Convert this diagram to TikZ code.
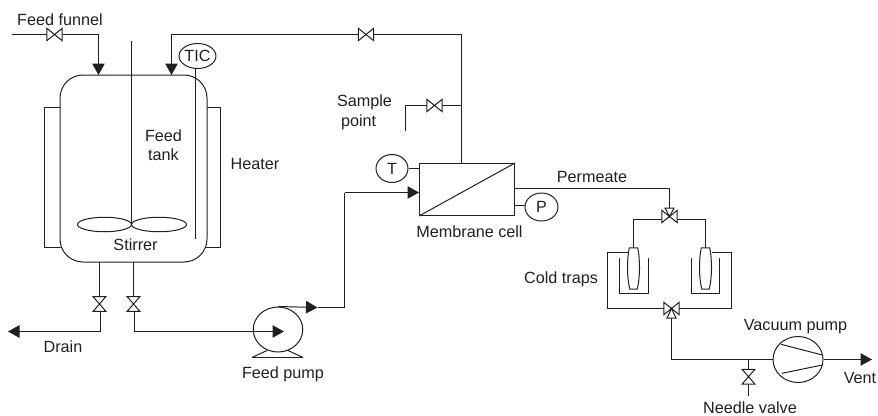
\documentclass[tikz,border=0pt]{standalone}
\usepackage{fontspec}
\setmainfont{Liberation Sans}
\usetikzlibrary{arrows.meta,shapes.geometric}
\definecolor{ink}{HTML}{231F20}
\tikzset{
  pipe/.style={draw=ink,line width=1pt,line join=miter},
  flow/.style={pipe,-{Triangle[length=11.5pt,width=12.5pt]}},
  lbl/.style={text=ink,font=\fontsize{16.2}{19.5}\selectfont,inner sep=0pt,align=center},
  instr/.style={ellipse,draw=ink,line width=1pt,inner sep=0pt,text=ink,font=\fontsize{16.2}{19}\selectfont},
  vhbox/.style={inner sep=0pt,minimum width=15pt,minimum height=12pt},
  vvbox/.style={inner sep=0pt,minimum width=12.5pt,minimum height=14.5pt},
  jacket/.style={pipe},
}
\newcommand{\valveH}[2]{\node[vhbox] (#1) at (#2) {};
  \draw[pipe] (#1.north west) -- (#1.south east) -- (#1.north east) -- (#1.south west) -- cycle;}
\newcommand{\valveV}[2]{\node[vvbox] (#1) at (#2) {};
  \draw[pipe] (#1.north west) -- (#1.north east) -- (#1.south west) -- (#1.south east) -- cycle;}
\newcommand{\trapTube}[2]{\node[inner sep=0pt,minimum width=12pt,minimum height=41pt] (#1) at (#2) {};
  \draw[pipe] ([xshift=2pt]#1.north west) -- ([xshift=-2pt]#1.north east)
    .. controls ([xshift=0.5pt,yshift=-12pt]#1.north east) and ([xshift=0.5pt,yshift=12pt]#1.south east) .. ([xshift=-2.5pt]#1.south east)
    -- ([xshift=2.5pt]#1.south west)
    .. controls ([xshift=-0.5pt,yshift=12pt]#1.south west) and ([xshift=-0.5pt,yshift=-12pt]#1.north west) .. cycle;}
\begin{document}
\begin{tikzpicture}[x=1pt,y=-1pt]
\useasboundingbox (0,0) rectangle (878,415);
% heater jackets and tank
\draw[jacket] (62,107.5) -- (44.5,107.5) -- (44.5,247.5) -- (65,247.5);
\draw[jacket] (205,107.5) -- (220.5,107.5) -- (220.5,247.5) -- (202,247.5);
\node[draw=ink,line width=1pt,fill=white,rounded corners=23pt,minimum width=147pt,minimum height=187pt,inner sep=0pt] (tank) at (133.5,168.5) {};
% stirrer
\coordinate (shafttop) at (131.5,41);
\node[ellipse,draw=ink,line width=1pt,minimum width=54pt,minimum height=14.5pt,inner sep=0pt] (impL) at (104.5,224.5) {};
\node[ellipse,draw=ink,line width=1pt,minimum width=55pt,minimum height=14.5pt,inner sep=0pt] (impR) at (159,224.5) {};
\draw[pipe] (shafttop) -- (131.5,224.5);
% labels
\node[lbl] (lfunnel) at (60,20) {Feed funnel};
\node[lbl] (ltank) at (163.5,145) {Feed\\tank};
\node[lbl] (lheater) at (255,164) {Heater};
\node[lbl] (lstirrer) at (135.5,245) {Stirrer};
\node[lbl] (ldrain) at (63,346.5) {Drain};
\node[lbl] (lfeedpump) at (283,374.5) {Feed pump};
\node[lbl,align=left] (lsample) at (364.5,112.5) {Sample\\\hspace*{4pt}point};
\node[lbl] (lcell) at (469.5,232) {Membrane cell};
\node[lbl] (lperm) at (592,177) {Permeate};
\node[lbl] (lcold) at (561,279.5) {Cold traps};
\node[lbl] (lvac) at (795.5,327) {Vacuum pump};
\node[lbl] (lvent) at (860,378) {Vent};
\node[lbl] (lneedle) at (750,407.5) {Needle valve};
% feed funnel line
\coordinate (fstart) at (12,34.5);
\coordinate (fcorner) at (98.5,34.5);
\valveH{vfunnel}{54.5,34.5}
\draw[pipe] (fstart) -- (vfunnel.west);
\draw[flow] (vfunnel.east) -- (fcorner) -- (98.5,75);
% recycle line
\coordinate (rcorner) at (171.5,34.5);
\coordinate (rright) at (461.5,34.5);
\valveH{vrecycle}{366,34.5}
\draw[flow] (vrecycle.west) -- (rcorner) -- (171.5,75);
\node[instr,minimum width=35pt,minimum height=25pt] (tic) at (197.5,56) {TIC};
\draw[pipe] (195.5,67.5) -- (195.5,239);
% membrane cell
\node[draw=ink,line width=1pt,minimum width=95pt,minimum height=52pt,inner sep=0pt] (cell) at (467,189.5) {};
\draw[pipe] (cell.south west) -- (cell.north east);
\draw[pipe] (vrecycle.east) -- (rright) -- (cell.north -| rright);
% sample point
\coordinate (stee) at (461.5,105.5);
\coordinate (scorner) at (405.5,105.5);
\coordinate (send) at (405.5,130.5);
\valveH{vsample}{434.5,105.5}
\draw[pipe] (stee) -- (vsample.east);
\draw[pipe] (vsample.west) -- (scorner) -- (send);
% instruments
\node[instr,minimum width=32pt,minimum height=28pt] (T) at (392,168.5) {T};
\draw[pipe] (T.east) -- (cell.west |- T.east);
\node[instr,minimum width=33pt,minimum height=28pt] (P) at (541.5,207) {P};
\draw[pipe] (514.5,205.5) -- (525,205.5);
% drains
\valveV{vdrain}{99.5,304}
\valveV{vfeed}{133.5,304}
\draw[pipe] (99.5,262) -- (vdrain.north);
\draw[pipe] (133.5,262) -- (vfeed.north);
\coordinate (dcorner) at (100.5,331.5);
\coordinate (dend) at (8,331.5);
\draw[flow] (100.5,311) -- (dcorner) -- (dend);
% feed pump
\node[ellipse,draw=ink,line width=1pt,minimum width=49.5pt,minimum height=45pt,inner sep=0pt] (fpump) at (278,329.5) {};
\draw[pipe] (252,357.5) -- (303,357.5);
\draw[pipe] (252,357.5) -- (267,350.5);
\draw[pipe] (288,350.5) -- (303,357.5);
\coordinate (pcorner) at (134.5,331.5);
\draw[flow] (134.5,311) -- (pcorner) -- (284,331.5);
\coordinate (oarrow) at (317.5,307.5);
\coordinate (ocorner) at (344.5,307.5);
\coordinate (oup) at (344.5,192.5);
\draw[flow] (fpump.north) -- (oarrow);
\draw[pipe] (oarrow) -- (ocorner) -- (oup);
\draw[flow] (oup) -- (cell.west |- oup);
% permeate to cold traps
\node[vhbox] (v3a) at (669.5,216.5) {};
\draw[pipe] (v3a.north west) -- (v3a.south east) -- (v3a.north east) -- (v3a.south west) -- cycle;
\draw[pipe] (v3a.center) -- (665,208) -- (674,208) -- cycle;
\coordinate (pcorner2) at (669.5,188.5);
\draw[pipe] (514.5,188.5) -- (pcorner2) -- (669.5,208);
\trapTube{trapL}{633.5,268.5}
\trapTube{trapR}{705.5,268.5}
\draw[pipe] (v3a.west) ++(0,2.5) -- (633.5,219) -- (trapL.north);
\draw[pipe] (v3a.east) ++(0,2.5) -- (705.5,219) -- (trapR.north);
% cold baths
\draw[pipe] (619.5,258) -- (619.5,293.5) -- (648.5,293.5) -- (648.5,258);
\draw[pipe] (691.5,258) -- (691.5,293.5) -- (719.5,293.5) -- (719.5,258);
% lower three-way valve
\node[vhbox] (v3b) at (671.5,308.5) {};
\draw[pipe] (v3b.north west) -- (v3b.south east) -- (v3b.north east) -- (v3b.south west) -- cycle;
\draw[pipe] (v3b.center) -- (667,318) -- (676,318) -- cycle;
\coordinate (trapLout) at (627.5,252.5);
\coordinate (trapRout) at (711.5,252.5);
\draw[pipe] (trapLout) -- (607.5,252.5) -- (607.5,308.5) -- (v3b.west);
\draw[pipe] (trapRout) -- (731.5,252.5) -- (731.5,308.5) -- (v3b.east);
% vacuum pump
\node[ellipse,draw=ink,line width=1pt,minimum width=50pt,minimum height=46pt,inner sep=0pt] (vpump) at (798,359.5) {};
\draw[pipe] (781,344.3) -- (822.3,355);
\draw[pipe] (782,373.3) -- (822.3,365);
\coordinate (vcorner) at (671.5,359.5);
\coordinate (vtee) at (748.5,359.5);
\draw[pipe] (671.5,318) -- (vcorner) -- (vpump.west);
\valveV{vneedle}{748.5,376.7}
\coordinate (nend) at (748.5,395.7);
\draw[pipe] (vtee) -- (vneedle.north);
\draw[pipe] (vneedle.south) -- (nend);
\coordinate (vout) at (872,359.5);
\draw[flow] (vpump.east) -- (vout);
\end{tikzpicture}
\end{document}
